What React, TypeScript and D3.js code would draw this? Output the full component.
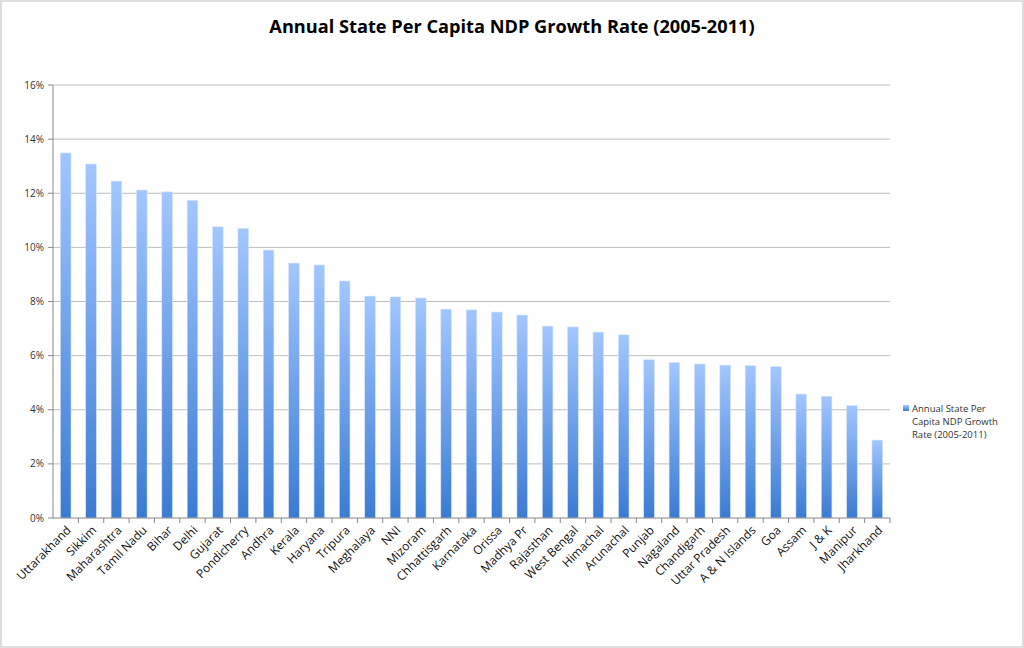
import React from "react";
import * as d3 from "d3";

const states: string[] = [
  "Uttarakhand", "Sikkim", "Maharashtra", "Tamil Nadu", "Bihar", "Delhi", "Gujarat",
  "Pondicherry", "Andhra", "Kerala", "Haryana", "Tripura", "Meghalaya", "NNI", "Mizoram",
  "Chhattisgarh", "Karnataka", "Orissa", "Madhya Pr", "Rajasthan", "West Bengal",
  "Himachal", "Arunachal", "Punjab", "Nagaland", "Chandigarh", "Uttar Pradesh",
  "A & N Islands", "Goa", "Assam", "J & K", "Manipur", "Jharkhand",
];
const growth: number[] = [
  13.49, 13.08, 12.45, 12.12, 12.05, 11.74, 10.76, 10.7, 9.9, 9.42, 9.35, 8.76, 8.2, 8.17,
  8.13, 7.72, 7.69, 7.61, 7.5, 7.09, 7.06, 6.87, 6.77, 5.85, 5.75, 5.69, 5.65, 5.63, 5.59,
  4.58, 4.5, 4.15, 2.88,
];
const yTicks: number[] = [0, 2, 4, 6, 8, 10, 12, 14, 16];
const title = "Annual State Per Capita NDP Growth Rate (2005-2011)";
const legendLines: string[] = ["Annual State Per", "Capita NDP Growth", "Rate (2005-2011)"];

const W = 1024;
const H = 648;
const left = 53;
const right = 890;
const top = 85;
const bottom = 518;
const font = "'Open Sans', 'DejaVu Sans', sans-serif";

export default function App() {
  const x = d3.scaleBand<string>().domain(states).range([left, right]).paddingInner(0.58).paddingOuter(0.29);
  const xStep = d3.scaleBand<string>().domain(states).range([left, right]);
  const y = d3.scaleLinear().domain([0, 16]).range([bottom, top]);
  return (
    <svg width={W} height={H} style={{ position: "absolute", left: 0, top: 0, background: "#fff" }}>
      <defs>
        <linearGradient id="barGrad" x1="0" y1="0" x2="0" y2="1">
          <stop offset="0%" stopColor="#A3C6FF" />
          <stop offset="100%" stopColor="#3B7BD3" />
        </linearGradient>
      </defs>
      <rect x={1} y={1} width={W - 2} height={H - 2} fill="#fff" stroke="#DEDEDE" strokeWidth={2} />
      <text x={512} y={33} textAnchor="middle" fontFamily={font} fontWeight={700} fontSize={18.2} fill="#000">
        {title}
      </text>
      {yTicks.map((t) => (
        <g key={t}>
          {t > 0 && <line x1={left} x2={right} y1={y(t)} y2={y(t)} stroke="#BFBFBF" strokeWidth={1} />}
          <line x1={left - 5} x2={left} y1={y(t)} y2={y(t)} stroke="#888" />
          <text x={left - 9} y={y(t) + 3.5} textAnchor="end" fontFamily={font} fontSize={10} fill="#333">
            {t}%
          </text>
        </g>
      ))}
      {states.map((s, i) => (
        <rect
          key={s}
          x={x(s)!}
          y={y(growth[i])}
          width={x.bandwidth()}
          height={bottom - y(growth[i])}
          fill="url(#barGrad)"
          stroke="#D6E4F7"
          strokeWidth={0.6}
        />
      ))}
      <line x1={left} x2={left} y1={top} y2={bottom} stroke="#888" />
      <line x1={left} x2={right} y1={bottom} y2={bottom} stroke="#888" />
      {states.map((s) => (
        <line key={s} x1={xStep(s)! + xStep.step()} x2={xStep(s)! + xStep.step()} y1={bottom} y2={bottom + 5} stroke="#888" />
      ))}
      {states.map((s) => {
        const cx = xStep(s)! + xStep.step() / 2 + 3;
        const cy = bottom + 10;
        return (
          <text
            key={s}
            x={cx}
            y={cy}
            transform={`rotate(-45 ${cx} ${cy})`}
            textAnchor="end"
            fontFamily={font}
            fontSize={12}
            fill="#111"
            dy="0.35em"
          >
            {s}
          </text>
        );
      })}
      <rect x={903} y={405} width={6} height={6} fill="url(#barGrad)" />
      {legendLines.map((l, i) => (
        <text key={l} x={912} y={412 + i * 13} fontFamily={font} fontSize={9.5} fill="#333">
          {l}
        </text>
      ))}
    </svg>
  );
}
